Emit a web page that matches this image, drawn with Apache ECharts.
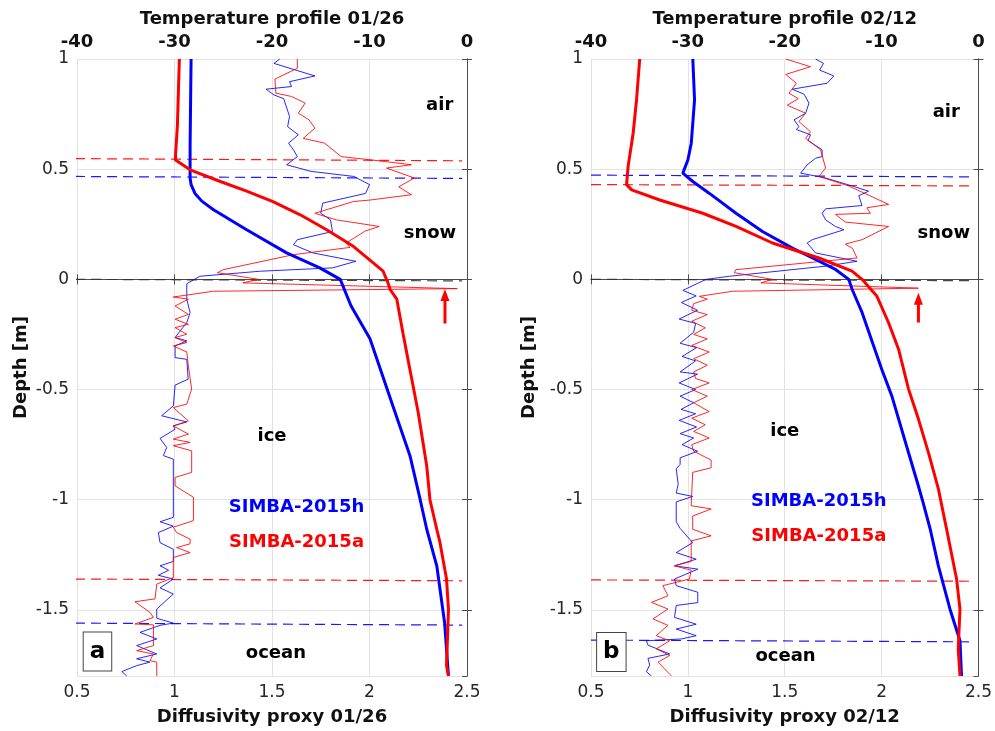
<!DOCTYPE html>
<html><head><meta charset="utf-8">
<script src="https://cdn.jsdelivr.net/npm/echarts@6/dist/echarts.min.js"></script>
<style>html,body{margin:0;padding:0;background:#fff}#c{width:995px;height:731px}</style>
</head><body><div id="c"></div><script>
// ---------- DATA (pairs are [value, depth]) ----------
const panelDates = ['01/26', '02/12'];
const diffTicks = [0.5, 1, 1.5, 2, 2.5];
const tempTicks = [-40, -30, -20, -10, 0];
const depthTicks = [1, 0.5, 0, -0.5, -1, -1.5];

// Panel a: temperature (deg C) vs depth
const aTempBlue = [[-28.3,1.0],[-28.35,0.8],[-28.4,0.6],[-28.4,0.46],[-28.3,0.43],[-27.9,0.39],[-27.2,0.355],[-26.0,0.316],[-22.6,0.225],[-18.5,0.12],[-15.1,0.052],[-13.0,0.0],[-11.9,-0.12],[-9.95,-0.27],[-7.6,-0.575],[-5.85,-0.80],[-4.8,-1.0],[-4.13,-1.134],[-3.1,-1.30],[-2.3,-1.557],[-1.9,-1.8]];
const aTempRed = [[-29.5,1.0],[-29.6,0.85],[-29.7,0.7],[-29.9,0.56],[-29.9,0.542],[-28.4,0.497],[-25.3,0.444],[-22.6,0.40],[-19.9,0.353],[-17.1,0.293],[-14.4,0.225],[-11.66,0.15],[-8.6,0.037],[-8.07,-0.02],[-7.9,-0.045],[-7.2,-0.09],[-6.5,-0.26],[-5.85,-0.41],[-5.0,-0.605],[-4.13,-0.847],[-3.8,-1.0],[-3.1,-1.134],[-2.77,-1.195],[-2.1,-1.36],[-1.9,-1.497],[-2.1,-1.753],[-1.9,-1.8]];
// Panel a: diffusivity proxy vs depth
const aDifBlue = [[1.54,1.0],[1.51,0.98],[1.72,0.923],[1.59,0.897],[1.60,0.875],[1.47,0.863],[1.51,0.837],[1.56,0.82],[1.59,0.739],[1.58,0.693],[1.635,0.656],[1.585,0.618],[1.61,0.588],[1.63,0.557],[1.575,0.52],[1.70,0.49],[1.92,0.467],[2.00,0.43],[1.98,0.39],[1.76,0.346],[1.75,0.30],[1.80,0.27],[1.81,0.217],[1.63,0.18],[1.61,0.157],[1.71,0.12],[1.93,0.082],[1.81,0.052],[1.44,0.037],[1.13,0.014],[1.063,-0.02],[1.063,-0.09],[1.08,-0.151],[1.063,-0.196],[1.003,-0.264],[1.063,-0.279],[1.003,-0.302],[1.003,-0.355],[1.063,-0.363],[1.07,-0.453],[1.003,-0.48],[0.994,-0.574],[0.934,-0.619],[1.003,-0.634],[1.063,-0.647],[0.994,-0.665],[1.003,-0.68],[0.926,-0.722],[0.96,-0.763],[0.943,-0.80],[0.994,-0.816],[0.994,-1.08],[0.926,-1.10],[0.994,-1.12],[0.917,-1.149],[0.926,-1.195],[0.994,-1.225],[0.994,-1.28],[0.926,-1.30],[0.97,-1.32],[0.917,-1.343],[0.994,-1.36],[0.926,-1.40],[0.994,-1.428],[0.909,-1.496],[0.909,-1.538],[0.994,-1.56],[0.926,-1.57],[0.823,-1.602],[0.909,-1.632],[0.806,-1.662],[0.909,-1.70],[0.806,-1.722],[0.874,-1.737],[0.806,-1.753],[0.73,-1.78],[0.755,-1.80]];
const aDifRed = [[1.63,1.0],[1.63,0.958],[1.515,0.909],[1.52,0.845],[1.60,0.83],[1.67,0.80],[1.635,0.754],[1.69,0.724],[1.72,0.686],[1.66,0.64],[1.77,0.618],[1.855,0.557],[2.01,0.542],[2.215,0.52],[2.087,0.505],[2.23,0.46],[2.15,0.42],[2.215,0.384],[2.003,0.36],[1.917,0.353],[1.72,0.30],[1.83,0.27],[2.05,0.24],[1.98,0.22],[1.88,0.165],[1.90,0.145],[1.61,0.112],[1.25,0.044],[1.22,0.03],[1.43,0.0],[1.35,-0.016],[2.45,-0.042],[1.20,-0.054],[0.994,-0.08],[1.071,-0.09],[1.003,-0.121],[1.071,-0.159],[1.003,-0.181],[1.071,-0.204],[1.003,-0.219],[1.063,-0.249],[1.003,-0.264],[1.063,-0.287],[0.994,-0.302],[1.063,-0.33],[1.071,-0.393],[1.088,-0.498],[1.063,-0.566],[0.994,-0.582],[1.071,-0.642],[0.994,-0.665],[1.071,-0.702],[0.994,-0.725],[1.08,-0.74],[0.994,-0.755],[1.088,-0.778],[1.088,-0.876],[1.003,-0.899],[1.003,-0.937],[1.097,-0.989],[1.097,-1.095],[0.994,-1.125],[1.011,-1.149],[1.08,-1.179],[1.08,-1.20],[1.011,-1.217],[1.08,-1.24],[0.994,-1.262],[0.994,-1.353],[0.909,-1.383],[0.9,-1.45],[0.797,-1.463],[0.874,-1.511],[0.892,-1.534],[0.797,-1.564],[0.892,-1.568],[0.892,-1.662],[0.806,-1.685],[0.892,-1.70],[0.874,-1.73],[0.909,-1.737],[0.909,-1.8]];

// Panel b: temperature vs depth
const bTempBlue = [[-29.49,1.0],[-29.31,0.814],[-29.65,0.618],[-30.0,0.542],[-30.52,0.482],[-29.49,0.444],[-27.77,0.39],[-25.03,0.30],[-22.3,0.217],[-19.21,0.142],[-16.81,0.09],[-14.76,0.045],[-13.39,0.0],[-13.05,-0.045],[-12.02,-0.15],[-9.97,-0.41],[-8.94,-0.53],[-7.22,-0.787],[-6.3,-0.923],[-5.8,-1.0],[-4.98,-1.134],[-4.14,-1.30],[-2.94,-1.497],[-1.91,-1.64],[-1.75,-1.8]];
const bTempRed = [[-34.97,1.0],[-35.3,0.814],[-35.65,0.663],[-36.17,0.512],[-36.33,0.43],[-35.8,0.406],[-32.9,0.36],[-28.46,0.30],[-25.03,0.24],[-21.27,0.165],[-16.47,0.097],[-13.05,0.037],[-12.02,0.0],[-10.48,-0.077],[-9.28,-0.197],[-8.25,-0.317],[-7.22,-0.498],[-6.2,-0.634],[-5.17,-0.785],[-4.14,-0.951],[-3.29,-1.134],[-2.26,-1.36],[-1.91,-1.497],[-2.09,-1.678],[-1.91,-1.8]];
// Panel b: diffusivity proxy vs depth
const bDifBlue = [[1.659,1.0],[1.70,0.98],[1.68,0.95],[1.753,0.923],[1.719,0.89],[1.539,0.863],[1.60,0.84],[1.625,0.80],[1.608,0.754],[1.548,0.724],[1.573,0.693],[1.56,0.68],[1.633,0.656],[1.62,0.63],[1.693,0.588],[1.693,0.557],[1.66,0.55],[1.616,0.52],[1.582,0.482],[1.711,0.46],[1.847,0.424],[1.933,0.40],[1.882,0.38],[1.899,0.335],[1.711,0.32],[1.693,0.30],[1.711,0.27],[1.762,0.24],[1.805,0.225],[1.642,0.18],[1.616,0.165],[1.659,0.12],[1.873,0.082],[1.711,0.06],[1.214,0.014],[1.094,0.0],[0.974,-0.05],[1.043,-0.075],[0.966,-0.105],[1.05,-0.14],[0.955,-0.18],[1.04,-0.20],[1.03,-0.24],[0.96,-0.29],[1.045,-0.31],[0.97,-0.35],[1.04,-0.37],[0.96,-0.42],[1.05,-0.43],[0.955,-0.47],[1.04,-0.50],[0.96,-0.53],[1.03,-0.56],[0.965,-0.59],[1.04,-0.61],[0.955,-0.64],[1.045,-0.67],[0.96,-0.70],[1.03,-0.72],[0.97,-0.75],[1.05,-0.78],[0.96,-0.81],[0.96,-0.84],[0.94,-0.86],[0.95,-0.93],[0.94,-0.97],[1.025,-0.985],[0.94,-1.01],[0.94,-1.10],[0.96,-1.13],[1.025,-1.195],[0.94,-1.24],[1.043,-1.27],[0.931,-1.30],[1.051,-1.315],[0.931,-1.36],[0.94,-1.39],[1.051,-1.42],[1.051,-1.467],[0.94,-1.48],[0.931,-1.534],[1.043,-1.565],[0.94,-1.587],[1.043,-1.617],[0.966,-1.632],[0.786,-1.64],[0.794,-1.66],[0.906,-1.70],[0.794,-1.72],[0.803,-1.75],[0.786,-1.78],[0.812,-1.8]];
const bDifRed = [[1.505,1.0],[1.633,0.965],[1.505,0.93],[1.56,0.89],[1.522,0.845],[1.57,0.82],[1.513,0.79],[1.608,0.754],[1.573,0.716],[1.633,0.67],[1.608,0.64],[1.685,0.588],[1.711,0.505],[1.676,0.467],[1.83,0.424],[2.036,0.34],[1.924,0.325],[1.942,0.30],[1.762,0.295],[1.79,0.275],[1.813,0.26],[2.036,0.24],[1.899,0.18],[1.813,0.16],[1.85,0.14],[1.873,0.097],[1.248,0.044],[1.24,0.03],[1.436,0.0],[1.377,-0.016],[2.19,-0.04],[1.231,-0.054],[1.06,-0.077],[1.10,-0.09],[1.03,-0.11],[1.02,-0.14],[1.10,-0.16],[1.02,-0.19],[1.09,-0.22],[1.03,-0.25],[1.10,-0.27],[1.02,-0.30],[1.11,-0.33],[1.03,-0.36],[1.10,-0.39],[1.03,-0.42],[1.04,-0.45],[1.11,-0.47],[1.02,-0.50],[1.10,-0.53],[1.03,-0.56],[1.11,-0.60],[1.02,-0.63],[1.09,-0.66],[1.03,-0.69],[1.11,-0.72],[1.02,-0.75],[1.03,-0.78],[1.12,-0.82],[1.12,-0.855],[1.025,-0.876],[1.017,-1.027],[1.12,-1.042],[1.025,-1.074],[1.025,-1.134],[1.12,-1.164],[1.017,-1.187],[1.017,-1.28],[0.931,-1.30],[1.017,-1.32],[1.008,-1.36],[0.871,-1.39],[0.897,-1.436],[0.812,-1.466],[0.897,-1.496],[0.82,-1.541],[0.897,-1.57],[0.837,-1.617],[0.906,-1.64],[0.837,-1.677],[0.906,-1.707],[0.846,-1.737],[0.915,-1.8]];

// Interfaces (dashed): [depth at left end, depth at right end]
const aInterfaces = { redTop:[0.548,0.538], blueTop:[0.467,0.458], surface:[0.0,-0.007], redBottom:[-1.36,-1.368], blueBottom:[-1.560,-1.569] };
const bInterfaces = { redTop:[0.43,0.424], blueTop:[0.473,0.465], surface:[0.0,-0.006], redBottom:[-1.364,-1.37], blueBottom:[-1.637,-1.645] };
const dashSpanA = [0.49, 2.475];
const dashSpanB = [0.5, 2.48];
// Arrow markers: [diffusivity, tail depth, head depth]
const aArrow = [2.387, -0.20, -0.071];
const bArrow = [2.19, -0.196, -0.088];

// Annotations: [text, diffusivity-x, depth, colour]
const aNotes = [['air',2.36,0.79,'#000'],['snow',2.31,0.21,'#000'],['ice',1.5,-0.713,'#000'],['SIMBA-2015h',1.626,-1.034,'#0000ff'],['SIMBA-2015a',1.626,-1.193,'#ff0000'],['ocean',1.52,-1.696,'#000']];
const bNotes = [['air',2.334,0.76,'#000'],['snow',2.321,0.211,'#000'],['ice',1.50,-0.69,'#000'],['SIMBA-2015h',1.676,-1.007,'#0000ff'],['SIMBA-2015a',1.676,-1.166,'#ff0000'],['ocean',1.504,-1.71,'#000']];
const panelLetters = [['a',0.605,-1.689],['b',0.605,-1.691]];

// ---------- CHART ----------
const FONT = 'DejaVu Sans';
const AX = '#4d4d4d';
const GRIDC = '#e2e2e2';
const grids = [{left:77, top:59, width:390, height:618},{left:591, top:59, width:389, height:618}];
const xAxes = [], yAxes = [], series = [];
const yNameGaps = [47, 53];

for (let p = 0; p < 2; p++) {
  xAxes.push({ gridIndex:p, type:'value', position:'bottom', min:diffTicks[0], max:diffTicks[diffTicks.length-1], interval:0.5,
    axisLine:{show:true, lineStyle:{color:AX, width:1}}, axisTick:{show:true, inside:true, length:5, lineStyle:{color:AX}},
    axisLabel:{fontSize:17, color:'#262626', margin:8, fontFamily:FONT},
    splitLine:{show:true, lineStyle:{color:GRIDC, width:1}},
    name:'Diffusivity proxy ' + panelDates[p], nameLocation:'middle', nameGap:32,
    nameTextStyle:{fontSize:18, fontWeight:'bold', color:'#111', fontFamily:FONT} });
  xAxes.push({ gridIndex:p, type:'value', position:'top', min:tempTicks[0], max:tempTicks[tempTicks.length-1], interval:10,
    axisLine:{show:true, lineStyle:{color:AX, width:1}}, axisTick:{show:true, inside:true, length:5, lineStyle:{color:AX}},
    axisLabel:{fontSize:18, fontWeight:'bold', color:'#111', margin:8, fontFamily:FONT},
    splitLine:{show:false},
    name:'Temperature profile ' + panelDates[p], nameLocation:'middle', nameGap:31,
    nameTextStyle:{fontSize:18, fontWeight:'bold', color:'#111', fontFamily:FONT} });
  yAxes.push({ gridIndex:p, type:'value', position:'left', min:-1.8, max:1,
    axisLine:{show:true, lineStyle:{color:AX, width:1}}, axisTick:{show:true, inside:true, length:5, lineStyle:{color:AX}},
    axisLabel:{fontSize:17, color:'#262626', margin:8, fontFamily:FONT, showMinLabel:false,
      formatter: v => depthTicks.includes(Math.round(v*10)/10) ? String(Math.round(v*10)/10) : ''},
    splitLine:{show:true, lineStyle:{color:GRIDC, width:1}},
    name:'Depth [m]', nameLocation:'middle', nameGap:yNameGaps[p],
    nameTextStyle:{fontSize:18, fontWeight:'bold', color:'#111', fontFamily:FONT} });
  yAxes.push({ gridIndex:p, type:'value', position:'right', min:-1.8, max:1,
    axisLine:{show:true, lineStyle:{color:AX, width:1}}, axisTick:{show:true, inside:true, length:5, lineStyle:{color:AX}},
    axisLabel:{show:false}, splitLine:{show:false} });
}

function lineSeries(data, xi, yi, color, width, opts) {
  return Object.assign({ type:'line', xAxisIndex:xi, yAxisIndex:yi, data:data, symbol:'none', smooth:false,
    lineStyle:{color:color, width:width}, itemStyle:{color:color}, silent:true, animation:false, z:3 }, opts || {});
}

const panels = [
  {tb:aTempBlue, tr:aTempRed, db:aDifBlue, dr:aDifRed, itf:aInterfaces, span:dashSpanA, arrow:aArrow, notes:aNotes},
  {tb:bTempBlue, tr:bTempRed, db:bDifBlue, dr:bDifRed, itf:bInterfaces, span:dashSpanB, arrow:bArrow, notes:bNotes}
];
const itfColors = {redTop:'#ff0000', blueTop:'#0000ff', surface:'#333333', redBottom:'#ff0000', blueBottom:'#0000ff'};

panels.forEach((P, p) => {
  const xD = p*2, xT = p*2+1, y = p*2;
  Object.keys(P.itf).forEach(k => {
    series.push(lineSeries([[P.span[0], P.itf[k][0]], [P.span[1], P.itf[k][1]]], xD, y, itfColors[k], 1.2,
      {clip:false, lineStyle:{color:itfColors[k], width:1.2, type:[10,6], opacity:0.9}, z:2}));
  });
  series.push(lineSeries(P.db, xD, y, '#0000ff', 1, {lineStyle:{color:'#0000ff', width:1, opacity:0.85}}));
  series.push(lineSeries(P.dr, xD, y, '#ff0000', 1, {lineStyle:{color:'#ff0000', width:1, opacity:0.85}}));
  series.push(lineSeries(P.tb, xT, y, '#0000ff', 3, {z:4}));
  series.push(lineSeries(P.tr, xT, y, '#ff0000', 3, {z:4}));
  series.push(lineSeries([[P.arrow[0], P.arrow[1]], {value:[P.arrow[0], P.arrow[2]], symbol:'triangle', symbolSize:[9,12]}],
    xD, y, '#ff0000', 3, {showSymbol:true, symbol:'none', z:5}));
  series.push({ type:'scatter', xAxisIndex:xD, yAxisIndex:y, symbol:'circle', symbolSize:1, silent:true, animation:false, z:6,
    itemStyle:{color:'rgba(0,0,0,0)', opacity:1},
    data: P.notes.map(n => ({ value:[n[1], n[2]], name:n[0],
      label:{show:true, position:'inside', formatter:n[0], color:n[3], opacity:1, fontSize:18, fontWeight:'bold', fontFamily:FONT} })) });
  const L = panelLetters[p];
  series.push({ type:'scatter', xAxisIndex:xD, yAxisIndex:y, symbol:'circle', symbolSize:1, silent:true, animation:false, z:6,
    itemStyle:{color:'rgba(0,0,0,0)', opacity:1},
    data:[{ value:[L[1], L[2]], name:L[0],
      label:{show:true, position:'inside', formatter:L[0], color:'#000', opacity:1, fontSize:23, fontWeight:'bold', fontFamily:FONT,
        backgroundColor:'#fff', borderColor:'#444', borderWidth:1, padding:[8,6,8,6], lineHeight:22} }] });
});

const chart = echarts.init(document.getElementById('c'), null, {renderer:'canvas'});
chart.setOption({ animation:false, backgroundColor:'#fff', grid:grids, xAxis:xAxes, yAxis:yAxes, series:series });
</script></body></html>
